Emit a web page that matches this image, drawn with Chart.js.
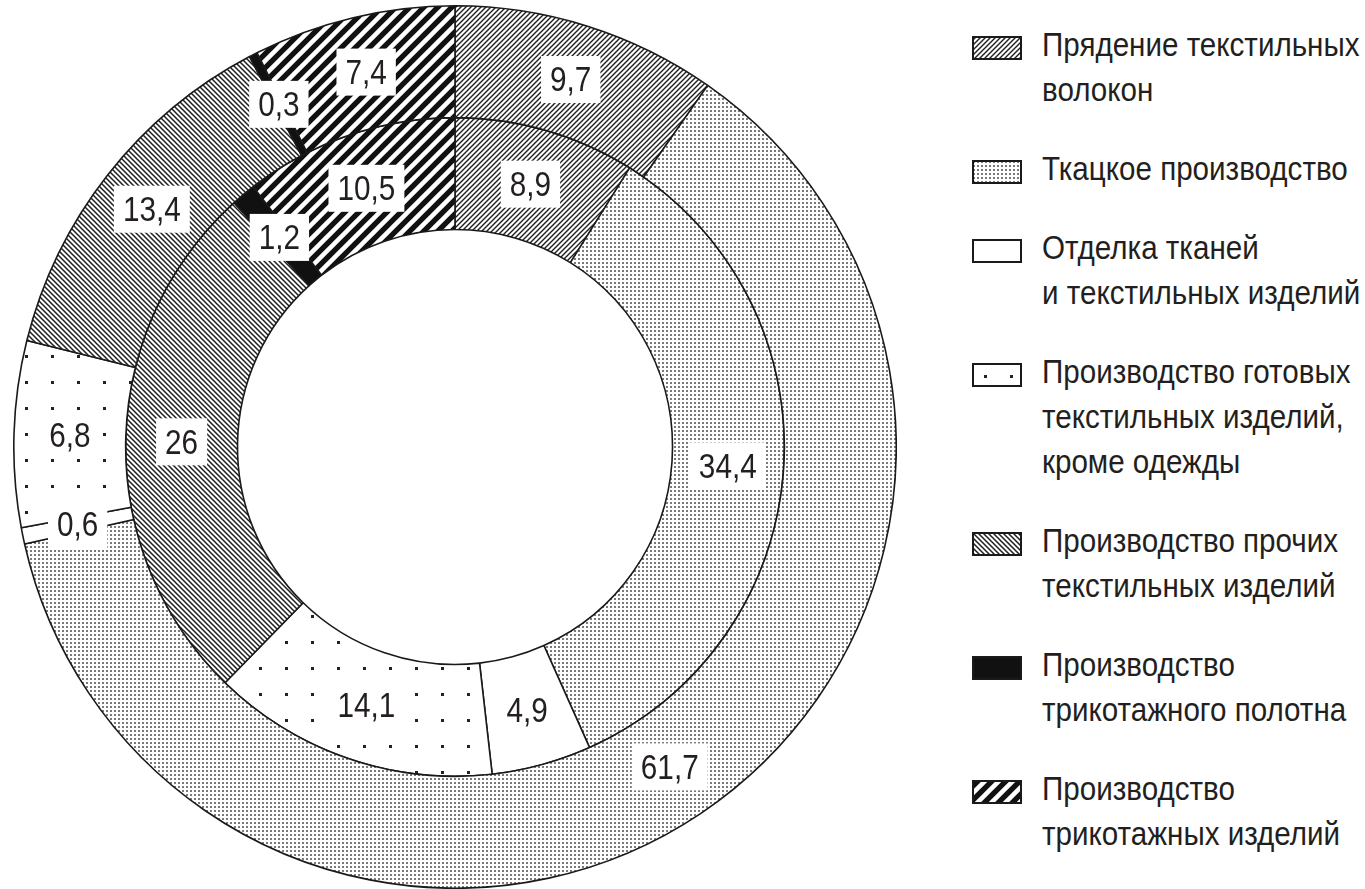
<!DOCTYPE html>
<html>
<head>
<meta charset="utf-8">
<script src="https://cdn.jsdelivr.net/npm/chart.js@4.4.1/dist/chart.umd.min.js"></script>
<style>
  html, body { margin: 0; padding: 0; background: #fff; width: 1365px; height: 889px; overflow: hidden; }
  #wrap { position: absolute; left: 13px; top: 5px; width: 884px; height: 884px; }
  #legend { position: absolute; left: 972px; top: 0; width: 393px; height: 889px;
            font-family: 'Liberation Sans', Arial, sans-serif;
            font-size: 34px; color: #231f20; }
  .item { position: absolute; left: 0; }
  .sw { position: absolute; left: 0; display: block; }
  .txt { position: absolute; left: 70px; line-height: 45px; white-space: nowrap;
         transform: scaleX(0.87); transform-origin: 0 0; }
</style>
</head>
<body>
<div id="wrap"><canvas id="c"></canvas></div>
<div id="legend"></div>
<script>
// ---- data ----
const categories = [
  ['Прядение текстильных', 'волокон'],
  ['Ткацкое производство'],
  ['Отделка тканей', 'и текстильных изделий'],
  ['Производство готовых', 'текстильных изделий,', 'кроме одежды'],
  ['Производство прочих', 'текстильных изделий'],
  ['Производство', 'трикотажного полотна'],
  ['Производство', 'трикотажных изделий']
];
const outerValues = [9.7, 61.7, 0.6, 6.8, 13.4, 0.3, 7.4];
const innerValues = [8.9, 34.4, 4.9, 14.1, 26, 1.2, 10.5];
const patternKinds = ['hatchFwd', 'dotsFine', 'plain', 'dotsSparse', 'hatchBack', 'solid', 'stripesBold'];

// ---- patterns ----
function makePattern(kind, targetCtx) {
  const c = document.createElement('canvas');
  const g = c.getContext('2d');
  let s = 8;
  if (kind === 'hatchFwd' || kind === 'hatchBack') s = 5;
  if (kind === 'dotsFine') s = 4;
  if (kind === 'dotsSparse') s = 26;
  if (kind === 'stripesBold') s = 14;
  c.width = s; c.height = s;
  g.fillStyle = '#fff'; g.fillRect(0, 0, s, s);
  if (kind === 'hatchFwd') {
    g.strokeStyle = '#1e1e1e'; g.lineWidth = 1.4;
    g.beginPath();
    g.moveTo(-1, s + 1); g.lineTo(s + 1, -1);
    g.moveTo(-1, 1); g.lineTo(1, -1);
    g.moveTo(s - 1, s + 1); g.lineTo(s + 1, s - 1);
    g.stroke();
  } else if (kind === 'hatchBack') {
    g.strokeStyle = '#1e1e1e'; g.lineWidth = 1.5;
    g.beginPath();
    g.moveTo(-1, -1); g.lineTo(s + 1, s + 1);
    g.moveTo(s - 1, -1); g.lineTo(s + 1, 1);
    g.moveTo(-1, s - 1); g.lineTo(1, s + 1);
    g.stroke();
  } else if (kind === 'dotsFine') {
    g.fillStyle = '#7a7a7a'; g.fillRect(1, 1, 2, 2);
  } else if (kind === 'dotsSparse') {
    g.fillStyle = '#222'; g.fillRect(12, 12, 3, 3);
  } else if (kind === 'solid') {
    g.fillStyle = '#111'; g.fillRect(0, 0, s, s);
  } else if (kind === 'stripesBold') {
    g.fillStyle = '#111'; g.fillRect(0, 0, s, s);
    g.strokeStyle = '#fff'; g.lineWidth = 4.5;
    g.beginPath();
    g.moveTo(-2, s + 2); g.lineTo(s + 2, -2);
    g.moveTo(-3, 3); g.lineTo(3, -3);
    g.moveTo(s - 3, s + 3); g.lineTo(s + 3, s - 3);
    g.stroke();
  }
  return targetCtx.createPattern(c, 'repeat');
}

const canvas = document.getElementById('c');
const ctx = canvas.getContext('2d');
const patterns = patternKinds.map(k => makePattern(k, ctx));

const LABEL_FONT = "35px 'Liberation Sans', Arial, sans-serif";
const LABEL_SCALE = 0.85;
function fmt(v) { return String(v).replace('.', ','); }

const boxLabels = {
  id: 'boxLabels',
  afterDatasetsDraw(chart) {
    const c = chart.ctx;
    c.save();
    c.font = LABEL_FONT;
    c.textAlign = 'center';
    c.textBaseline = 'middle';
    chart.data.datasets.forEach((ds, di) => {
      const meta = chart.getDatasetMeta(di);
      meta.data.forEach((arc, i) => {
        const p = arc.tooltipPosition();
        const txt = fmt(ds.data[i]);
        const w = c.measureText(txt).width * LABEL_SCALE + 18;
        const h = 47;
        c.fillStyle = '#fff';
        c.fillRect(p.x - w / 2, p.y - h / 2, w, h);
        c.save();
        c.translate(p.x, p.y + 2);
        c.scale(LABEL_SCALE, 1);
        c.fillStyle = '#231f20';
        c.fillText(txt, 0, 0);
        c.restore();
      });
    });
    c.restore();
  }
};

new Chart(ctx, {
  type: 'doughnut',
  data: {
    labels: categories,
    datasets: [
      { data: outerValues, backgroundColor: patterns, borderColor: '#1a1a1a', borderWidth: 1.6 },
      { data: innerValues, backgroundColor: patterns, borderColor: '#1a1a1a', borderWidth: 1.6 }
    ]
  },
  options: {
    responsive: true,
    maintainAspectRatio: false,
    animation: false,
    cutout: '49.3%',
    layout: { padding: 0 },
    events: [],
    plugins: { legend: { display: false }, tooltip: { enabled: false } }
  },
  plugins: [boxLabels]
});

// ---- HTML legend built from the categories ----
const legend = document.getElementById('legend');
const LINE = 45, GAP = 34;
let y = 22;
categories.forEach((lines, i) => {
  const item = document.createElement('div');
  item.className = 'item';
  item.style.top = y + 'px';
  const sw = document.createElement('canvas');
  sw.className = 'sw';
  sw.width = 50; sw.height = 24;
  sw.style.top = '14px';
  const sctx = sw.getContext('2d');
  sctx.fillStyle = makePattern(patternKinds[i], sctx);
  sctx.fillRect(0, 0, 50, 24);
  sctx.strokeStyle = '#1a1a1a'; sctx.lineWidth = 2;
  sctx.strokeRect(1, 1, 48, 22);
  item.appendChild(sw);
  const t = document.createElement('div');
  t.className = 'txt';
  t.innerHTML = lines.join('<br>');
  item.appendChild(t);
  legend.appendChild(item);
  y += lines.length * LINE + GAP;
});
</script>
</body>
</html>
